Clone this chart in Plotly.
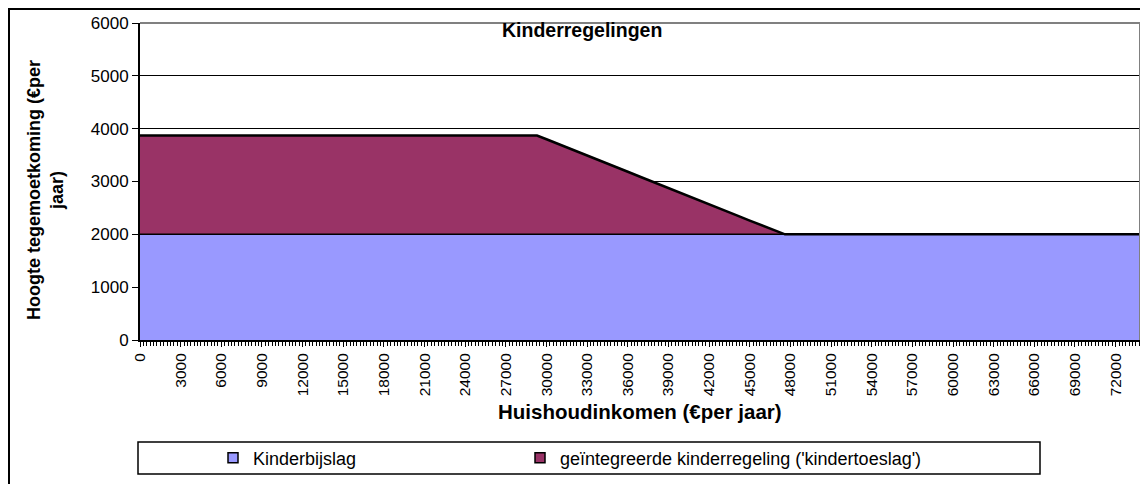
import plotly.graph_objects as go

# household income (euro per year)
income = [
    0, 1000, 2000, 3000, 4000, 5000, 6000, 7000, 8000, 9000,
    10000, 11000, 12000, 13000, 14000, 15000, 16000, 17000, 18000, 19000,
    20000, 21000, 22000, 23000, 24000, 25000, 26000, 27000, 28000, 29000,
    29300, 30000, 31000, 32000, 33000, 34000, 35000, 36000, 37000, 38000,
    39000, 40000, 41000, 42000, 43000, 44000, 45000, 46000, 47000, 47600,
    48000, 49000, 50000, 51000, 52000, 53000, 54000, 55000, 56000, 57000,
    58000, 59000, 60000, 61000, 62000, 63000, 64000, 65000, 66000, 67000,
    68000, 69000, 70000, 71000, 72000, 73000, 73800,
]

kinderbijslag = [
    2000, 2000, 2000, 2000, 2000, 2000, 2000, 2000, 2000, 2000,
    2000, 2000, 2000, 2000, 2000, 2000, 2000, 2000, 2000, 2000,
    2000, 2000, 2000, 2000, 2000, 2000, 2000, 2000, 2000, 2000,
    2000, 2000, 2000, 2000, 2000, 2000, 2000, 2000, 2000, 2000,
    2000, 2000, 2000, 2000, 2000, 2000, 2000, 2000, 2000, 2000,
    2000, 2000, 2000, 2000, 2000, 2000, 2000, 2000, 2000, 2000,
    2000, 2000, 2000, 2000, 2000, 2000, 2000, 2000, 2000, 2000,
    2000, 2000, 2000, 2000, 2000, 2000, 2000,
]

# stacked on top of kinderbijslag
kindertoeslag = [
    1870, 1870, 1870, 1870, 1870, 1870, 1870, 1870, 1870, 1870,
    1870, 1870, 1870, 1870, 1870, 1870, 1870, 1870, 1870, 1870,
    1870, 1870, 1870, 1870, 1870, 1870, 1870, 1870, 1870, 1870,
    1870, 1800, 1695, 1595, 1490, 1390, 1285, 1185, 1080, 980,
    875, 775, 670, 570, 465, 365, 260, 160, 55, 0,
    0, 0, 0, 0, 0, 0, 0, 0, 0, 0,
    0, 0, 0, 0, 0, 0, 0, 0, 0, 0,
    0, 0, 0, 0, 0, 0, 0,
]

x_ticks = [0, 3000, 6000, 9000, 12000, 15000, 18000, 21000, 24000, 27000,
           30000, 33000, 36000, 39000, 42000, 45000, 48000, 51000, 54000,
           57000, 60000, 63000, 66000, 69000, 72000]

names = ['Kinderbijslag', "geïntegreerde kinderregeling ('kindertoeslag')"]
colors = ['#9999FF', '#993366']
FONT = 'Liberation Sans, Arial, sans-serif'

fig = go.Figure()
fig.add_trace(go.Scatter(x=income, y=kinderbijslag, name=names[0], stackgroup='one',
                         mode='lines', line=dict(color='black', width=1.5),
                         fillcolor=colors[0], showlegend=False))
fig.add_trace(go.Scatter(x=income, y=kindertoeslag, name=names[1], stackgroup='one',
                         mode='lines', line=dict(color='black', width=2.5),
                         fillcolor=colors[1], showlegend=False))
# legend entries with small square keys like the original (one legend each)
for name, col, leg in zip(names, colors, ['legend', 'legend2']):
  fig.add_trace(go.Scatter(x=[None], y=[None], mode='markers', name=name, legend=leg,
                           marker=dict(symbol='square', size=10, color=col,
                                       line=dict(color='black', width=1.5))))


# reference pixel -> paper coords (plot area spans px 140..1140, 23..340)
def px_x(p):
  return (p - 140) / 1000


def px_y(p):
  return (340 - p) / 317


shapes = [
    # outer chart border
    dict(type='rect', xref='paper', yref='paper', x0=px_x(9), x1=1.03, y0=-0.5, y1=px_y(9),
         line=dict(color='black', width=2)),
    # top and right of the plot area
    dict(type='line', xref='paper', yref='paper', x0=0, x1=1, y0=1, y1=1,
         line=dict(color='#808080', width=2)),
    dict(type='line', xref='paper', yref='paper', x0=1, x1=1, y0=0, y1=1,
         line=dict(color='#808080', width=2)),
    # legend box
    dict(type='rect', xref='paper', yref='paper', x0=px_x(138), x1=px_x(1040),
         y0=px_y(474), y1=px_y(442), line=dict(color='black', width=1.5)),
]

annotations = [
    dict(text='<b>Kinderregelingen</b>', xref='paper', yref='paper', x=px_x(582), y=px_y(30),
         xanchor='center', yanchor='middle', showarrow=False,
         font=dict(family=FONT, size=19.5, color='black')),
    dict(text='<b>Huishoudinkomen (€per jaar)</b>', xref='paper', yref='paper',
         x=px_x(640), y=px_y(411), xanchor='center', yanchor='middle', showarrow=False,
         font=dict(family=FONT, size=20.5, color='black')),
    dict(text='<b>Hoogte tegemoetkoming (€per<br>jaar)</b>', xref='paper', yref='paper',
         x=px_x(45), y=px_y(190), xanchor='center', yanchor='middle', textangle=-90,
         showarrow=False, font=dict(family=FONT, size=18, color='black')),
]

legend_common = dict(orientation='h', xanchor='left', y=px_y(458), yanchor='middle',
                     bgcolor='rgba(0,0,0,0)', borderwidth=0,
                     font=dict(family=FONT, size=18, color='black'))

# the page adds an 8px body margin, so the figure is 8px smaller than the window
fig.update_layout(
    width=1140, height=476,
    margin=dict(l=132, r=8, t=15, b=144),
    paper_bgcolor='white', plot_bgcolor='white',
    font=dict(family=FONT, color='black'),
    shapes=shapes, annotations=annotations,
    legend=dict(x=px_x(213), **legend_common),
    legend2=dict(x=px_x(520), **legend_common),
)
fig.update_yaxes(range=[0, 6000], dtick=1000, showgrid=True, gridcolor='black', gridwidth=1,
                 showline=True, linecolor='black', linewidth=2, ticks='outside', ticklen=6,
                 tickcolor='black', tickfont=dict(family=FONT, size=17), zeroline=False,
                 automargin=False)
fig.update_xaxes(range=[0, 73800], tickmode='array', tickvals=x_ticks,
                 ticktext=[str(v) for v in x_ticks], tickangle=-90,
                 showgrid=False, showline=True, linecolor='black', linewidth=2,
                 ticks='outside', ticklen=5, tickcolor='black', zeroline=False,
                 tickfont=dict(family=FONT, size=15.5), automargin=False,
                 minor=dict(dtick=250, ticks='outside', ticklen=4, tickcolor='black',
                            tickwidth=1))

fig.write_html('out.html')
